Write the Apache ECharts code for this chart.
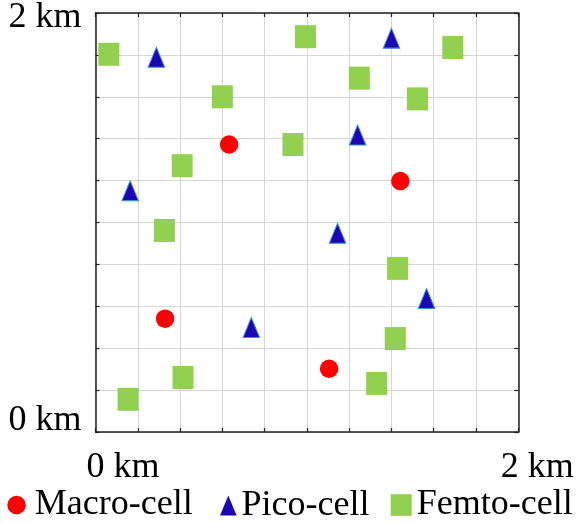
<!DOCTYPE html>
<html>
<head>
<meta charset="utf-8">
<script src="https://cdn.jsdelivr.net/npm/echarts@6/dist/echarts.min.js"></script>
<style>
  html, body { margin: 0; padding: 0; background: #ffffff; }
  #chart { width: 579px; height: 523px; }
</style>
</head>
<body>
<div id="chart"></div>
<script>
// Cell positions in km, [x, y]
const seriesNames = ['Macro-cell', 'Pico-cell', 'Femto-cell'];
const macroCells = [[0.632, 1.372], [1.442, 1.198], [0.329, 0.541], [1.105, 0.302]];
const picoCells = [
  [0.288, 1.789], [1.400, 1.880], [1.240, 1.418], [0.164, 1.152],
  [1.145, 0.949], [1.566, 0.637], [0.737, 0.499]
];
const femtoCells = [
  [0.063, 1.803], [0.993, 1.887], [1.690, 1.835], [1.248, 1.689],
  [0.600, 1.600], [1.523, 1.590], [0.934, 1.372], [0.410, 1.271],
  [0.326, 0.962], [1.429, 0.781], [1.418, 0.446], [0.414, 0.260],
  [1.330, 0.232], [0.154, 0.156]
];

// Axis range and labelled ticks
const axisMin = 0;
const axisMax = 2;
const axisStep = 0.2;
const tickValues = [0, 2];
const tickLabels = ['0 km', '2 km'];

const serif = 'Liberation Serif';
const frameColor = '#1f1f1f';
const gridColor = '#d6d6d6';

const chart = echarts.init(document.getElementById('chart'));

function labelFor(v, lowStyle, highStyle) {
  const i = tickValues.indexOf(v);
  if (i < 0) return '';
  return '{' + (i === 0 ? lowStyle : highStyle) + '|' + tickLabels[i] + '}';
}

function frameAxis(pos, extra) {
  return Object.assign({
    type: 'value',
    position: pos,
    min: axisMin,
    max: axisMax,
    interval: axisStep,
    axisLine: { show: true, onZero: false, lineStyle: { color: frameColor, width: 1.5 } },
    axisTick: { show: true, inside: true, length: 4, lineStyle: { color: frameColor, width: 1.2 } },
    axisLabel: { show: false },
    splitLine: { show: false }
  }, extra || {});
}

const legendText = { fontFamily: serif, fontSize: 36, lineHeight: 36, color: '#000' };

const option = {
  animation: false,
  backgroundColor: '#ffffff',
  grid: { left: 95.5, right: 60.7, top: 12.3, bottom: 91, containLabel: false },
  xAxis: [
    frameAxis('bottom', {
      splitLine: { show: true, lineStyle: { color: gridColor, width: 1 } },
      axisLabel: {
        show: true,
        customValues: tickValues,
        margin: 18,
        color: '#000',
        fontFamily: serif,
        fontSize: 36,
        formatter: v => labelFor(v, 'lo', 'hi'),
        rich: {
          lo: { fontFamily: serif, fontSize: 36, color: '#000', padding: [0, 0, 0, 55] },
          hi: { fontFamily: serif, fontSize: 36, color: '#000', padding: [0, 0, 0, 38] }
        }
      }
    }),
    frameAxis('top')
  ],
  yAxis: [
    frameAxis('left', {
      splitLine: { show: true, lineStyle: { color: gridColor, width: 1 } },
      axisLabel: {
        show: true,
        customValues: tickValues,
        margin: 14,
        color: '#000',
        fontFamily: serif,
        fontSize: 36,
        formatter: v => labelFor(v, 'lo', 'hi'),
        rich: {
          lo: { fontFamily: serif, fontSize: 36, color: '#000', padding: [0, 0, 22, 0] },
          hi: { fontFamily: serif, fontSize: 36, color: '#000', padding: [10, 0, 0, 0] }
        }
      }
    }),
    frameAxis('right')
  ],
  legend: [
    {
      data: [{ name: seriesNames[0], icon: 'circle' }],
      left: 7.3, top: 484.5,
      itemWidth: 18.5, itemHeight: 18.5,
      padding: 0,
      textStyle: Object.assign({}, legendText, { padding: [5, 0, 0, 4] })
    },
    {
      data: [{ name: seriesNames[1], icon: 'triangle' }],
      left: 220, top: 486,
      itemWidth: 16.6, itemHeight: 20,
      symbolKeepAspect: false,
      padding: 0,
      itemStyle: { borderWidth: 0 },
      textStyle: Object.assign({}, legendText, { padding: [3, 0, 0, 0] })
    },
    {
      data: [{ name: seriesNames[2], icon: 'rect' }],
      left: 390.7, top: 484.5,
      itemWidth: 21, itemHeight: 21.7,
      symbolKeepAspect: false,
      padding: 0,
      textStyle: Object.assign({}, legendText, { padding: [5, 0, 0, 0] })
    }
  ],
  series: [
    {
      name: seriesNames[0],
      type: 'scatter',
      symbol: 'circle',
      symbolSize: 18.5,
      itemStyle: { color: '#ff0000', opacity: 1 },
      data: macroCells,
      z: 3
    },
    {
      name: seriesNames[1],
      type: 'scatter',
      symbol: 'triangle',
      symbolSize: [16.5, 20],
      itemStyle: { color: '#1c07b5', borderColor: '#3f8fe0', borderWidth: 1, opacity: 1 },
      data: picoCells,
      z: 3
    },
    {
      name: seriesNames[2],
      type: 'scatter',
      symbol: 'rect',
      symbolSize: [21, 23],
      itemStyle: { color: '#92d050', opacity: 1 },
      data: femtoCells,
      z: 3
    }
  ]
};

chart.setOption(option);
</script>
</body>
</html>
